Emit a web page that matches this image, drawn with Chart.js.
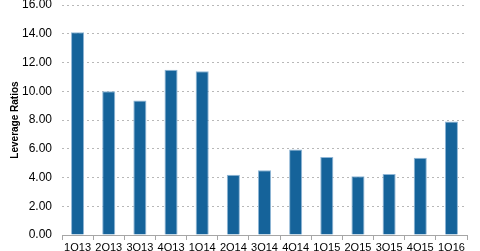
<!DOCTYPE html>
<html>
<head>
<meta charset="utf-8">
<script src="https://cdn.jsdelivr.net/npm/chart.js@4/dist/chart.umd.min.js"></script>
<style>
  html, body { margin: 0; padding: 0; background: #fff; }
  #wrap { width: 480px; height: 251px; }
</style>
</head>
<body>
<div id="wrap"><canvas id="leverage"></canvas></div>
<script>
// Leverage ratios by quarter

const quarters = ['1Q13', '2Q13', '3Q13', '4Q13', '1Q14', '2Q14', '3Q14', '4Q14', '1Q15', '2Q15', '3Q15', '4Q15', '1Q16'];
const ratios = [14.1, 10.0, 9.35, 11.5, 11.4, 4.2, 4.5, 5.95, 5.43, 4.08, 4.24, 5.38, 7.9];
const yTicks = [0, 2, 4, 6, 8, 10, 12, 14, 16];

Chart.defaults.font.family = 'Arial, "Liberation Sans", sans-serif';
Chart.defaults.color = '#000';

const data = {
    labels: quarters,
    datasets: [
        {
            label: 'Leverage Ratios',
            data: ratios,
            backgroundColor: '#15639a',
            borderColor: '#8fb6d6',
            borderWidth: 1,
            categoryPercentage: 1,
            barPercentage: 0.42
        }
    ]
};

const config = {
    type: 'bar',
    data: data,
    options: {
        responsive: true,
        maintainAspectRatio: false,
        animation: false,
        layout: { padding: { top: 5, right: 13, bottom: 0, left: 9 } },
        plugins: {
            legend: { display: false },
            tooltip: { enabled: false }
        },
        scales: {
            x: {
                afterFit: (scale) => { scale.height = 16; },
                grid: {
                    display: true,
                    drawOnChartArea: false,
                    tickLength: 5,
                    color: '#a6a6a6',
                    offset: true
                },
                border: { color: '#a6a6a6' },
                ticks: { font: { size: 11 }, padding: 1, maxRotation: 0, autoSkip: false }
            },
            y: {
                min: 0,
                max: 16,
                afterBuildTicks: (scale) => {
                    scale.ticks = yTicks.map(v => ({ value: v }));
                },
                afterFit: (scale) => {
                    scale.width = 53;
                    scale.paddingTop = 0;
                    scale.paddingBottom = 0;
                },
                grid: {
                    color: '#b8b8b8',
                    drawTicks: false
                },
                border: { display: false, dash: [2, 3] },
                ticks: {
                    font: { size: 12 },
                    padding: 10,
                    callback: (v) => Number(v).toFixed(2)
                },
                title: {
                    display: true,
                    text: 'Leverage Ratios',
                    font: { size: 10, weight: 'bold' },
                    padding: { top: 0, bottom: 2 }
                }
            }
        }
    }
};

new Chart(document.getElementById('leverage'), config);
</script>
</body>
</html>
